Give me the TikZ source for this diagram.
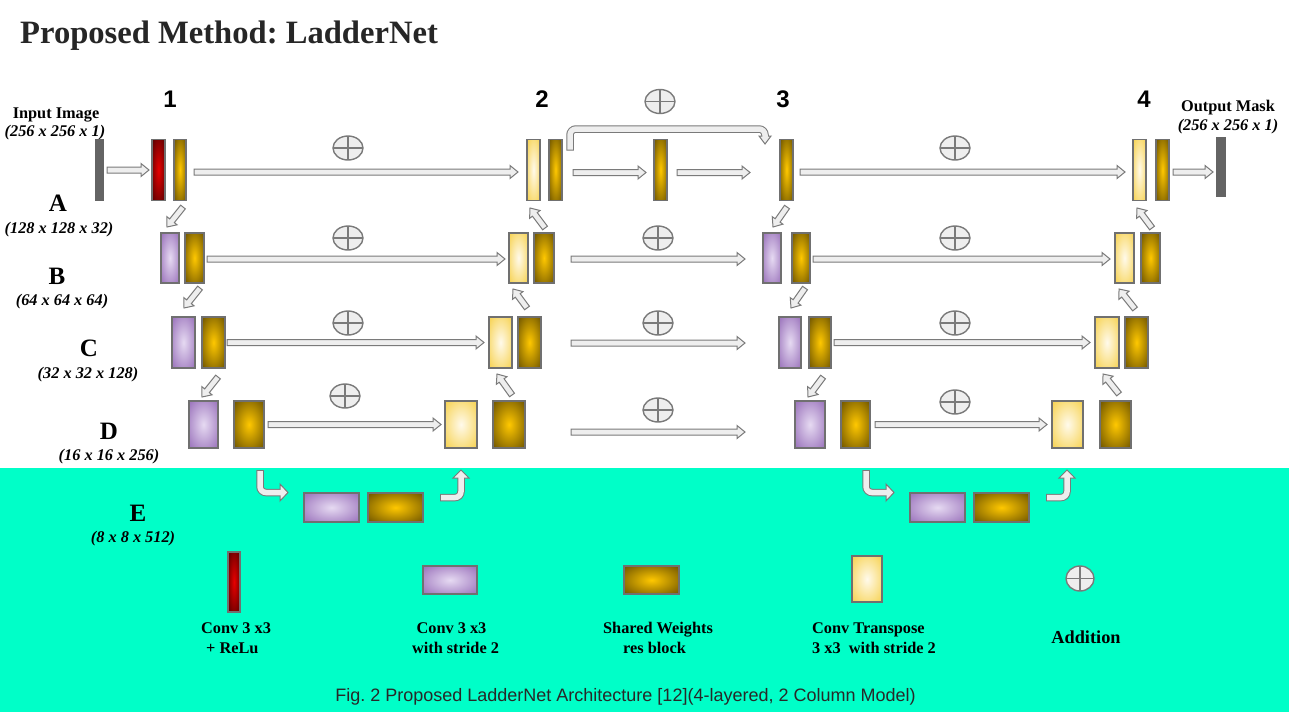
\documentclass[tikz,border=0pt]{standalone}
\usepackage{fontspec}
\setmainfont{Liberation Serif}
\newfontfamily\labelsans{Liberation Sans}
\usetikzlibrary{calc,shapes.geometric}
\frenchspacing

\definecolor{mint}{RGB}{0,255,200}
\definecolor{edgegray}{RGB}{112,112,112}
\definecolor{arrline}{RGB}{122,122,122}
\definecolor{arrfill}{RGB}{238,238,238}
\definecolor{redin}{RGB}{232,0,0}
\definecolor{redout}{RGB}{95,0,0}
\definecolor{goldin}{RGB}{255,200,0}
\definecolor{goldout}{RGB}{120,92,0}
\definecolor{lyin}{RGB}{255,250,235}
\definecolor{lyout}{RGB}{247,212,88}
\definecolor{purin}{RGB}{230,218,242}
\definecolor{purout}{RGB}{158,120,190}
\definecolor{iobar}{RGB}{100,100,100}
\definecolor{titlegray}{RGB}{38,38,38}
\definecolor{capgray}{RGB}{40,40,40}

% soft radial glows for the layer blocks
\pgfdeclareradialshading{redglow}{\pgfpoint{0bp}{0bp}}{color(0bp)=(redin); color(33bp)=(redout); color(50bp)=(redout)}
\pgfdeclareradialshading{goldglow}{\pgfpoint{0bp}{0bp}}{color(0bp)=(goldin); color(33bp)=(goldout); color(50bp)=(goldout)}
\pgfdeclareradialshading{lyglow}{\pgfpoint{0bp}{0bp}}{color(0bp)=(lyin); color(33bp)=(lyout); color(50bp)=(lyout)}
\pgfdeclareradialshading{purglow}{\pgfpoint{0bp}{0bp}}{color(0bp)=(purin); color(33bp)=(purout); color(50bp)=(purout)}

\tikzset{
  layer/.style={draw=edgegray, line width=1.2pt, inner sep=0pt, outer sep=0pt, shade},
  convrelu/.style={layer, shading=redglow},
  resblk/.style={layer, shading=goldglow},
  upconv/.style={layer, shading=lyglow},
  downconv/.style={layer, shading=purglow},
  iobox/.style={fill=iobar, inner sep=0pt, outer sep=0pt},
  addsym/.style={ellipse, draw=arrline, line width=1.4pt, fill=arrfill,
    minimum width=30pt, minimum height=24pt, inner sep=0pt,
    path picture={\draw[arrline, line width=1.4pt]
      (path picture bounding box.north) -- (path picture bounding box.south)
      (path picture bounding box.west) -- (path picture bounding box.east);}},
  arrowbody/.style={draw=arrline, fill=arrfill, line width=1pt, line join=miter},
  bentout/.style={draw=arrline, line width=7.5pt, rounded corners=6pt},
  bentin/.style={draw=arrfill, line width=5.5pt, rounded corners=6pt},
  txt/.style={inner sep=0pt, font=\bfseries\fontsize{16.3}{19}\selectfont},
  dimtxt/.style={inner sep=0pt, font=\bfseries\itshape\fontsize{16.3}{19}\selectfont},
  rowtxt/.style={inner sep=0pt, font=\bfseries\fontsize{25}{28}\selectfont},
  coltxt/.style={inner sep=0pt, font=\labelsans\bfseries\fontsize{24}{28}\selectfont},
}

% block arrow from #1 (tail) to #2 (tip)
\newcommand\blockarrow[2]{%
  \coordinate (bas) at #1;
  \coordinate (bae) at #2;
  \coordinate (baq) at ($(bae)!8pt!(bas)$);
  \path[arrowbody] ($(bas)!3pt!-90:(bae)$) -- ($(baq)!3pt!-90:(bae)$)
    -- ($(baq)!6.5pt!-90:(bae)$) -- (bae) -- ($(baq)!6.5pt!90:(bae)$)
    -- ($(baq)!3pt!90:(bae)$) -- ($(bas)!3pt!90:(bae)$) -- cycle;
}

\begin{document}
\begin{tikzpicture}[x=1pt, y=-1pt]
\useasboundingbox (0,0) rectangle (1289,712);
\fill[white] (0,0) rectangle (1289,468);
\fill[mint] (0,468) rectangle (1289,712);

% title
\node[inner sep=0pt, anchor=base west, text=titlegray,
  font=\bfseries\fontsize{32.6}{36}\selectfont] (title) at (20,43) {Proposed Method: LadderNet};

% column numbers
\node[coltxt, anchor=base] (c1) at (170,107) {1};
\node[coltxt, anchor=base] (c2) at (542,107) {2};
\node[coltxt, anchor=base] (c3) at (783,107) {3};
\node[coltxt, anchor=base] (c4) at (1144,107) {4};

% row labels
\node[txt, anchor=base] (inlab) at (56,118) {Input Image};
\node[dimtxt, anchor=base] (indim) at (55,136) {(256 x 256 x 1)};
\node[txt, anchor=base] (outlab) at (1228,111) {Output Mask};
\node[dimtxt, anchor=base] (outdim) at (1228,130) {(256 x 256 x 1)};
\node[rowtxt, anchor=base] (la) at (58,211.5) {A};
\node[dimtxt, anchor=base] (lad) at (59,233) {(128 x 128 x 32)};
\node[rowtxt, anchor=base] (lb) at (57,284.5) {B};
\node[dimtxt, anchor=base] (lbd) at (62,305) {(64 x 64 x 64)};
\node[rowtxt, anchor=base] (lc) at (89,356.5) {C};
\node[dimtxt, anchor=base] (lcd) at (88,378) {(32 x 32 x 128)};
\node[rowtxt, anchor=base] (ld) at (109,439.5) {D};
\node[dimtxt, anchor=base] (ldd) at (109,460) {(16 x 16 x 256)};
\node[rowtxt, anchor=base] (le) at (138,521.5) {E};
\node[dimtxt, anchor=base] (led) at (133,542) {(8 x 8 x 512)};

% top level
\node[iobox, minimum width=9pt, minimum height=62pt] (inimg) at (99.5,170) {};
\node[convrelu, minimum width=13pt, minimum height=61pt] (r1) at (158.5,170) {};
\node[resblk, minimum width=12pt, minimum height=61pt] (g1) at (180,170) {};
\node[upconv, minimum width=13pt, minimum height=61pt] (y2) at (533.5,170) {};
\node[resblk, minimum width=13pt, minimum height=61pt] (g2) at (555.5,170) {};
\node[resblk, minimum width=13pt, minimum height=61pt] (gm) at (660.5,170) {};
\node[resblk, minimum width=13pt, minimum height=61pt] (g3) at (786.5,170) {};
\node[upconv, minimum width=13pt, minimum height=61pt] (y4) at (1139.5,170) {};
\node[resblk, minimum width=13pt, minimum height=61pt] (g4) at (1162.5,170) {};
\node[iobox, minimum width=10pt, minimum height=60pt] (outimg) at (1221,167) {};

% level A
\node[downconv, minimum width=18pt, minimum height=50pt] (pA1) at (170,258) {};
\node[resblk, minimum width=19pt, minimum height=50pt] (gA1) at (194.5,258) {};
\node[upconv, minimum width=19pt, minimum height=50pt] (yA2) at (518.5,258) {};
\node[resblk, minimum width=20pt, minimum height=50pt] (gA2) at (544,258) {};
\node[downconv, minimum width=18pt, minimum height=50pt] (pA3) at (772,258) {};
\node[resblk, minimum width=18pt, minimum height=50pt] (gA3) at (801,258) {};
\node[upconv, minimum width=19pt, minimum height=50pt] (yA4) at (1124.5,258) {};
\node[resblk, minimum width=19pt, minimum height=50pt] (gA4) at (1150.5,258) {};

% level B
\node[downconv, minimum width=23pt, minimum height=51pt] (pB1) at (183.5,342.5) {};
\node[resblk, minimum width=23pt, minimum height=51pt] (gB1) at (213.5,342.5) {};
\node[upconv, minimum width=23pt, minimum height=51pt] (yB2) at (500.5,342.5) {};
\node[resblk, minimum width=23pt, minimum height=51pt] (gB2) at (529.5,342.5) {};
\node[downconv, minimum width=22pt, minimum height=51pt] (pB3) at (790,342.5) {};
\node[resblk, minimum width=22pt, minimum height=51pt] (gB3) at (820,342.5) {};
\node[upconv, minimum width=24pt, minimum height=51pt] (yB4) at (1107,342.5) {};
\node[resblk, minimum width=23pt, minimum height=51pt] (gB4) at (1136.5,342.5) {};

% level D
\node[downconv, minimum width=29pt, minimum height=47pt] (pD1) at (203.5,424.5) {};
\node[resblk, minimum width=30pt, minimum height=47pt] (gD1) at (249,424.5) {};
\node[upconv, minimum width=32pt, minimum height=47pt] (yD2) at (461,424.5) {};
\node[resblk, minimum width=32pt, minimum height=47pt] (gD2) at (509,424.5) {};
\node[downconv, minimum width=30pt, minimum height=47pt] (pD3) at (810,424.5) {};
\node[resblk, minimum width=29pt, minimum height=47pt] (gD3) at (855.5,424.5) {};
\node[upconv, minimum width=31pt, minimum height=47pt] (yD4) at (1067.5,424.5) {};
\node[resblk, minimum width=31pt, minimum height=47pt] (gD4) at (1115.5,424.5) {};

% level E
\node[downconv, minimum width=55pt, minimum height=29pt] (pE1) at (331.5,507.5) {};
\node[resblk, minimum width=55pt, minimum height=29pt] (gE1) at (395.5,507.5) {};
\node[downconv, minimum width=55pt, minimum height=29pt] (pE2) at (937.5,507.5) {};
\node[resblk, minimum width=55pt, minimum height=29pt] (gE2) at (1001.5,507.5) {};

% addition symbols
\node[addsym] (s1) at (348,148) {};
\node[addsym] (s2) at (660,101.5) {};
\node[addsym] (s3) at (955,148) {};
\node[addsym] (s4) at (348,238) {};
\node[addsym] (s5) at (658,238) {};
\node[addsym] (s6) at (955,238) {};
\node[addsym] (s7) at (348,323) {};
\node[addsym] (s8) at (658,323) {};
\node[addsym] (s9) at (955,323) {};
\node[addsym] (s10) at (345,396) {};
\node[addsym] (s11) at (658,410) {};
\node[addsym] (s12) at (955,402) {};

% free ends of the bridging arrows between the columns
\coordinate (fA0) at (571,259);  \coordinate (fA1) at (745,259);
\coordinate (fB0) at (571,343);  \coordinate (fB1) at (745,343);
\coordinate (fD0) at (571,432);  \coordinate (fD1) at (745,432);

% horizontal arrows
\blockarrow{($(inimg.east)+(3,0)$)}{($(r1.west)+(-3,0)$)}
\blockarrow{($(g1.east)+(8,2)$)}{($(y2.west)+(-9,2)$)}
\blockarrow{($(g2.east)+(11,2.5)$)}{($(gm.west)+(-8,2.5)$)}
\blockarrow{($(gm.east)+(10,2.5)$)}{($(g3.west)+(-30,2.5)$)}
\blockarrow{($(g3.east)+(7,2)$)}{($(y4.west)+(-8,2)$)}
\blockarrow{($(g4.east)+(4,2)$)}{($(outimg.west)+(-3,5)$)}

\blockarrow{($(gA1.east)+(3,1)$)}{($(yA2.west)+(-4,1)$)}
\blockarrow{(fA0)}{(fA1)}
\blockarrow{($(gA3.east)+(3,1)$)}{($(yA4.west)+(-5,1)$)}

\blockarrow{($(gB1.east)+(2,0)$)}{($(yB2.west)+(-5,0)$)}
\blockarrow{(fB0)}{(fB1)}
\blockarrow{($(gB3.east)+(3,0)$)}{($(yB4.west)+(-5,0)$)}

\blockarrow{($(gD1.east)+(4,0)$)}{($(yD2.west)+(-4,0)$)}
\blockarrow{(fD0)}{(fD1)}
\blockarrow{($(gD3.east)+(5,0)$)}{($(yD4.west)+(-5,0)$)}

% down-sampling arrows
\blockarrow{($(g1.south)+(3,6.5)$)}{($(pA1.north)+(-3,-6)$)}
\blockarrow{($(gA1.south)+(5.5,5)$)}{($(pB1.north)+(0.5,-9)$)}
\blockarrow{($(gB1.south)+(4.5,9)$)}{($(pD1.north)+(-1.5,-4)$)}
\blockarrow{($(g3.south)+(0.5,6.5)$)}{($(pA3.north)+(1,-6)$)}
\blockarrow{($(gA3.south)+(4,5)$)}{($(pB3.north)+(1,-9)$)}
\blockarrow{($(gB3.south)+(3,9)$)}{($(pD3.north)+(-2,-4)$)}

% up-sampling arrows
\blockarrow{($(gA2.north)+(1,-5)$)}{($(y2.south)+(-3.5,7.5)$)}
\blockarrow{($(gB2.north)+(-2.5,-9)$)}{($(yA2.south)+(-5.5,6)$)}
\blockarrow{($(gD2.north)+(3,-6)$)}{($(yB2.south)+(-3.5,6)$)}
\blockarrow{($(gA4.north)+(1.5,-5)$)}{($(y4.south)+(-2.5,7.5)$)}
\blockarrow{($(gB4.north)+(-1.5,-8)$)}{($(yA4.south)+(-5.5,6)$)}
\blockarrow{($(gD4.north)+(3.5,-7)$)}{($(yB4.south)+(-4,6)$)}

% skip connection from column 2 to column 3
\coordinate (sk0) at ($(g2.north east)+(8,11)$);
\coordinate (skm) at ($(gm.north)+(0,-10.5)$);
\coordinate (sk1) at ($(g3.north)+(-21.5,-3.5)$);
\draw[bentout] (sk0) |- (skm) -| (sk1);
\path[arrowbody] ($(sk1)+(-6,0)$) -- ($(sk1)+(0,8)$) -- ($(sk1)+(6,0)$) -- cycle;
\draw[bentin] ($(sk0)+(0,-1)$) |- (skm) -| ($(sk1)+(0,1.5)$);

% bent arrows into and out of the bottom level
\coordinate (ua0) at ($(gD1.south)+(11,22)$);
\coordinate (ua1) at ($(pE1.west)+(-24,-15)$);
\draw[bentout] (ua0) |- (ua1);
\path[arrowbody] ($(ua1)+(0,-8.5)$) -- ($(ua1)+(8,0)$) -- ($(ua1)+(0,8.5)$) -- cycle;
\draw[bentin] ($(ua0)+(0,1)$) |- ($(ua1)+(1.5,0)$);

\coordinate (ub0) at ($(gE1.east)+(17,-10)$);
\coordinate (ub1) at ($(yD2.south)+(0,30)$);
\draw[bentout] (ub0) -| (ub1);
\path[arrowbody] ($(ub1)+(-8,0)$) -- ($(ub1)+(0,-8)$) -- ($(ub1)+(8,0)$) -- cycle;
\draw[bentin] ($(ub0)+(1,0)$) -| ($(ub1)+(0,-1.5)$);

\coordinate (uc0) at ($(gD3.south)+(10.5,22)$);
\coordinate (uc1) at ($(pE2.west)+(-24,-15)$);
\draw[bentout] (uc0) |- (uc1);
\path[arrowbody] ($(uc1)+(0,-8.5)$) -- ($(uc1)+(8,0)$) -- ($(uc1)+(0,8.5)$) -- cycle;
\draw[bentin] ($(uc0)+(0,1)$) |- ($(uc1)+(1.5,0)$);

\coordinate (ud0) at ($(gE2.east)+(17,-10)$);
\coordinate (ud1) at ($(yD4.south)+(-0.5,30)$);
\draw[bentout] (ud0) -| (ud1);
\path[arrowbody] ($(ud1)+(-8,0)$) -- ($(ud1)+(0,-8)$) -- ($(ud1)+(8,0)$) -- cycle;
\draw[bentin] ($(ud0)+(1,0)$) -| ($(ud1)+(0,-1.5)$);

% legend
\node[convrelu, minimum width=12pt, minimum height=60pt] (kr) at (234,582) {};
\node[downconv, minimum width=54pt, minimum height=28pt] (kp) at (450,580) {};
\node[resblk, minimum width=55pt, minimum height=28pt] (kg) at (651.5,580) {};
\node[upconv, minimum width=30pt, minimum height=46pt] (ky) at (867,579) {};
\node[addsym, minimum width=28pt, minimum height=25pt] (ks) at (1080,578.5) {};

\node[txt, anchor=base west] (kr1) at (201,633) {Conv 3 x3};
\node[txt, anchor=base west] (kr2) at (206,653) {+ ReLu};
\node[txt, anchor=base] (kp1) at (451.5,633) {Conv 3 x3};
\node[txt, anchor=base] (kp2) at (455.5,653) {with stride 2};
\node[txt, anchor=base] (kg1) at (658,633) {Shared Weights};
\node[txt, anchor=base] (kg2) at (654.5,653) {res block};
\node[txt, anchor=base west] (ky1) at (812,633) {Conv Transpose};
\node[txt, anchor=base west] (ky2) at (812,653) {3 x3\ \ with stride 2};
\node[inner sep=0pt, anchor=base, font=\bfseries\fontsize{18.3}{21}\selectfont] (ks1) at (1086,643) {Addition};

% caption
\node[inner sep=0pt, anchor=base, text=capgray, font=\labelsans\fontsize{18}{21}\selectfont] (cap) at (625.5,701)
  {Fig. 2 Proposed LadderNet Architecture [12](4-layered, 2 Column Model)};
\end{tikzpicture}
\end{document}
